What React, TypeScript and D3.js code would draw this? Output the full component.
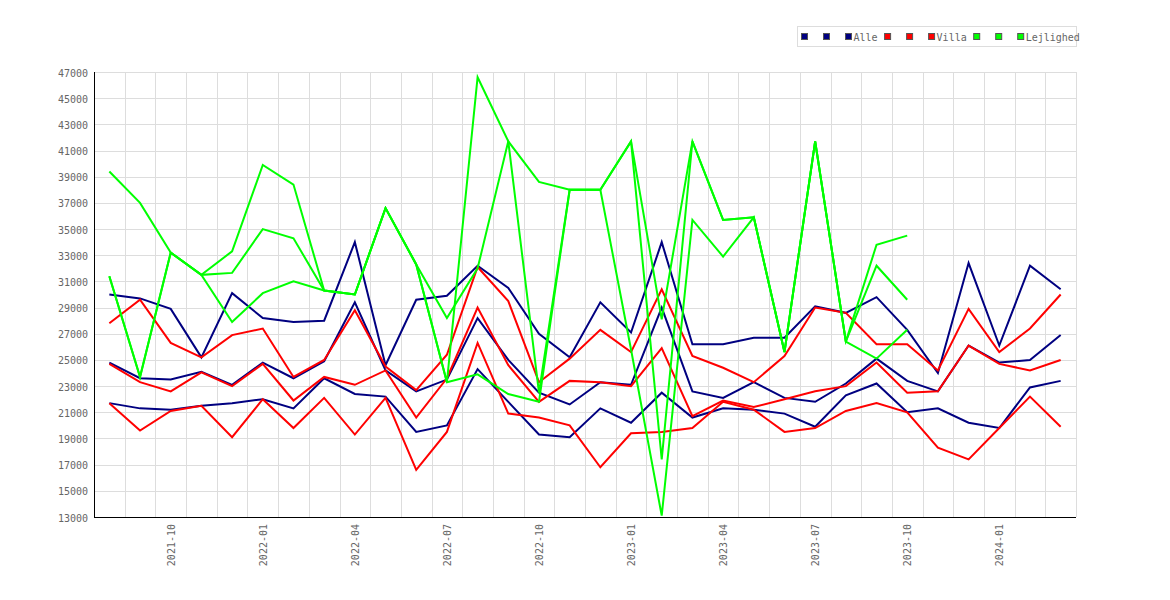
import { useEffect, useRef } from "react";
import * as d3 from "d3";

const months = [
  "2021-08", "2021-09", "2021-10", "2021-11", "2021-12", "2022-01", "2022-02", "2022-03",
  "2022-04", "2022-05", "2022-06", "2022-07", "2022-08", "2022-09", "2022-10", "2022-11",
  "2022-12", "2023-01", "2023-02", "2023-03", "2023-04", "2023-05", "2023-06", "2023-07",
  "2023-08", "2023-09", "2023-10", "2023-11", "2023-12", "2024-01", "2024-02", "2024-03",
];

const xTickLabels = [
  "2021-10", "2022-01", "2022-04", "2022-07", "2022-10",
  "2023-01", "2023-04", "2023-07", "2023-10", "2024-01",
];

const yTicks = [
  13000, 15000, 17000, 19000, 21000, 23000, 25000, 27000, 29000,
  31000, 33000, 35000, 37000, 39000, 41000, 43000, 45000, 47000,
];

// Alle
const alleHigh = [
  30000, 29700, 28900, 25200, 30100, 28200, 27900, 28000, 34000, 24600, 29600, 29900, 32200, 30500, 27000, 25200,
  29400, 27100, 34000, 26200, 26200, 26700, 26700, 29100, 28600, 29800, 27300, 24000, 32400, 26100, 32200, 30400,
];
const alleMid = [
  24800, 23600, 23500, 24100, 23100, 24800, 23600, 24900, 29400, 24200, 22600, 23500, 28200, 25000, 22500, 21600,
  23300, 23100, 29000, 22600, 22100, 23300, 22100, 21800, 23200, 25100, 23400, 22600, 26100, 24800, 25000, 26900,
];
const alleLow = [
  21700, 21300, 21200, 21500, 21700, 22000, 21300, 23600, 22400, 22200, 19500, 20000, 24300, 21800, 19300, 19100,
  21300, 20200, 22500, 20600, 21300, 21200, 20900, 19900, 22300, 23200, 21000, 21300, 20200, 19800, 22900, 23400,
];

// Villa
const villaHigh = [
  27800, 29600, 26300, 25200, 26900, 27400, 23700, 25000, 28800, 24500, 22700, 25400, 32100, 29500, 23300, 25100,
  27300, 25600, 30400, 25300, 24400, 23300, 25300, 29000, 28600, 26200, 26200, 24200, 28900, 25600, 27400, 30000,
];
const villaMid = [
  24700, 23300, 22600, 24050, 23000, 24700, 21900, 23700, 23100, 24200, 20600, 23600, 29000, 24600, 21800, 23400,
  23300, 23000, 25900, 20700, 21900, 21400, 22000, 22600, 23000, 24800, 22500, 22600, 26100, 24700, 24200, 25000,
];
const villaLow = [
  21700, 19600, 21100, 21500, 19100, 22000, 19800, 22100, 19300, 22100, 16600, 19500, 26300, 20900, 20600, 20000,
  16800, 19400, 19500, 19800, 21800, 21200, 19500, 19800, 21100, 21700, 21000, 18300, 17400, 19800, 22200, 19900,
];

// Lejlighed (no data after 2023-10)
const lejlighedHigh = [
  39400, 37000, 33200, 31500, 33300, 39900, 38400, 30300, 30000, 36600, 32300, 28200, 32000, 41700, 38600, 38000,
  38000, 41700, 28100, 41700, 35700, 35900, 25600, 41700, 26400, 33800, 34500, null, null, null, null, null,
];
const lejlighedMid = [
  31400, 23700, 33200, 31500, 31650, 35000, 34300, 30300, 30000, 36600, 32300, 23300, 46600, 41700, 22500, 38000,
  38000, 41700, 17400, 41700, 35700, 35900, 25600, 41700, 26400, 32200, 29600, null, null, null, null, null,
];
const lejlighedLow = [
  31400, 23700, 33200, 31500, 27900, 30100, 31000, 30300, 30000, 36600, 32300, 23300, 23900, 22400, 21800, 38000,
  38000, 25800, 13100, 35700, 32900, 35900, 25600, 41700, 26400, 25100, 27300, null, null, null, null, null,
];

const groups = [
  { name: "Alle", color: "#000080", lines: [alleHigh, alleMid, alleLow] },
  { name: "Villa", color: "#ff0000", lines: [villaHigh, villaMid, villaLow] },
  { name: "Lejlighed", color: "#00ff00", lines: [lejlighedHigh, lejlighedMid, lejlighedLow] },
];

const FONT = "'DejaVu Sans Mono', monospace";

function App() {
  const visRef = useRef<SVGSVGElement>(null);

  const margin = { top: 72, right: 94, bottom: 83, left: 94 },
    width = 1170,
    height = 600;

  useEffect(() => {
    if (!visRef.current) return;
    const svg = d3.select(visRef.current);
    svg.selectAll("*").remove();

    const x = d3
      .scaleBand<string>()
      .domain(months)
      .range([margin.left, width - margin.right])
      .padding(0);
    const cx = (m: string) => x(m)! + x.bandwidth() / 2;

    const y = d3
      .scaleLinear()
      .domain([13000, 47000])
      .range([height - margin.bottom, margin.top]);

    const grid = svg.append("g").attr("stroke", "#dddddd").attr("stroke-width", 1);
    // horizontal grid
    grid
      .selectAll("line.h")
      .data(yTicks)
      .enter()
      .append("line")
      .attr("x1", margin.left)
      .attr("x2", width - margin.right)
      .attr("y1", (d) => Math.round(y(d)) + 0.5)
      .attr("y2", (d) => Math.round(y(d)) + 0.5);
    // vertical grid on month boundaries
    grid
      .selectAll("line.v")
      .data(months)
      .enter()
      .append("line")
      .attr("x1", (d) => Math.round(x(d)! + x.bandwidth()) + 0.5)
      .attr("x2", (d) => Math.round(x(d)! + x.bandwidth()) + 0.5)
      .attr("y1", margin.top)
      .attr("y2", height - margin.bottom);

    // axes
    svg
      .append("line")
      .attr("x1", margin.left + 0.5)
      .attr("x2", margin.left + 0.5)
      .attr("y1", margin.top)
      .attr("y2", height - margin.bottom + 0.5)
      .attr("stroke", "#000");
    svg
      .append("line")
      .attr("x1", margin.left)
      .attr("x2", width - margin.right)
      .attr("y1", height - margin.bottom + 0.5)
      .attr("y2", height - margin.bottom + 0.5)
      .attr("stroke", "#000");

    svg
      .append("g")
      .selectAll("text")
      .data(yTicks)
      .enter()
      .append("text")
      .attr("x", margin.left - 6)
      .attr("y", (d) => y(d) + 4.5)
      .attr("text-anchor", "end")
      .style("font-family", FONT)
      .style("font-size", "10px")
      .attr("fill", "#666")
      .text((d) => d);

    svg
      .append("g")
      .selectAll("text")
      .data(xTickLabels)
      .enter()
      .append("text")
      .attr("transform", (d) => `translate(${cx(d) + 4},${height - margin.bottom + 7}) rotate(-90)`)
      .attr("text-anchor", "end")
      .style("font-family", FONT)
      .style("font-size", "10px")
      .attr("fill", "#666")
      .text((d) => d);

    const line = d3
      .line<number | null>()
      .defined((d) => d != null)
      .x((_, i) => cx(months[i]))
      .y((d) => y(d as number));

    groups.forEach((g) => {
      g.lines.forEach((vals) => {
        svg
          .append("path")
          .attr("d", line(vals as (number | null)[]))
          .attr("fill", "none")
          .attr("stroke", g.color)
          .attr("stroke-width", 2)
          .attr("stroke-linejoin", "miter");
      });
    });

    // legend
    const legend = svg.append("g");
    legend
      .append("rect")
      .attr("x", 797.5)
      .attr("y", 26.5)
      .attr("width", 279)
      .attr("height", 20)
      .attr("fill", "#fff")
      .attr("stroke", "#dddddd");
    let lx = 801;
    groups.forEach((g) => {
      g.lines.forEach((_, i) => {
        legend
          .append("rect")
          .attr("x", lx + 0.5)
          .attr("y", 33.5)
          .attr("width", 6)
          .attr("height", 6)
          .attr("fill", g.color)
          .attr("stroke", "#555");
        if (i < g.lines.length - 1) lx += 22;
      });
      const t = legend
        .append("text")
        .attr("x", lx + 8.5)
        .attr("y", 40.5)
        .style("font-family", FONT)
        .style("font-size", "10px")
        .attr("fill", "#666")
        .text(g.name);
      lx += 8.5 + (t.node() as SVGTextElement).getComputedTextLength() + 6.5;
    });
  }, [visRef]);

  return (
    <svg
      ref={visRef}
      width={width}
      height={height}
      style={{ position: "absolute", left: 0, top: 0, background: "#fff" }}
    />
  );
}

export default App;
